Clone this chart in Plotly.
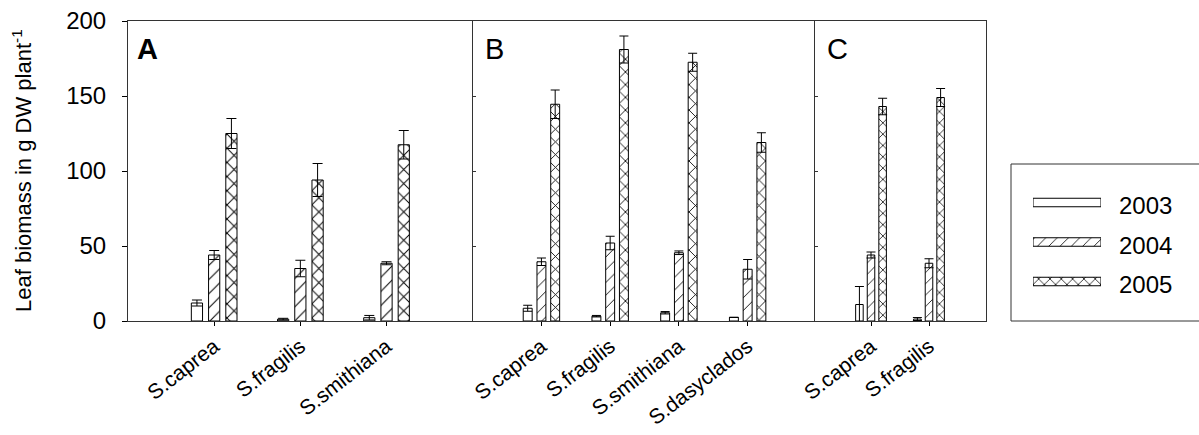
import plotly.graph_objects as go

# ---- data -------------------------------------------------------------
years = ["2003", "2004", "2005"]

cats_a = ["S.caprea", "S.fragilis", "S.smithiana"]
a_2003 = [12.0, 1.2, 2.2]
a_2003_err = [2.0, 0.6, 1.5]
a_2004 = [44.0, 35.0, 38.5]
a_2004_err = [3.0, 5.5, 1.0]
a_2005 = [125.0, 94.0, 117.5]
a_2005_err = [10.0, 11.0, 9.5]

cats_b = ["S.caprea", "S.fragilis", "S.smithiana", "S.dasyclados"]
b_2003 = [8.5, 3.2, 5.5, 2.4]
b_2003_err = [2.0, 0.5, 0.8, 0.0]
b_2004 = [39.5, 52.0, 45.5, 34.5]
b_2004_err = [2.5, 4.5, 1.2, 6.5]
b_2005 = [144.5, 181.0, 172.5, 119.0]
b_2005_err = [9.5, 9.0, 6.0, 6.5]

cats_c = ["S.caprea", "S.fragilis"]
c_2003 = [11.0, 1.3]
c_2003_err = [12.0, 1.0]
c_2004 = [44.0, 38.5]
c_2004_err = [2.0, 3.0]
c_2005 = [143.0, 149.0]
c_2005_err = [5.5, 6.0]

panel_letters = ["A", "B", "C"]
y_ticks = [0, 50, 100, 150, 200]
y_title = "Leaf biomass in g DW plant<sup>-1</sup>"

# ---- styling ------------------------------------------------------------
FONT = "Liberation Sans, Arial, sans-serif"
INK = "#000000"
EDGE = "#333333"
shapes_by_year = ["", "/", "x"]
solidity_by_year = [0.1, 0.1, 0.18]
offsets = [-0.265, -0.065, 0.135]
BAR_W = 0.13

panels = [
    dict(cats=cats_a, vals=[a_2003, a_2004, a_2005],
         errs=[a_2003_err, a_2004_err, a_2005_err],
         xa="x", ya="y", patsize=10, capw=5),
    dict(cats=cats_b, vals=[b_2003, b_2004, b_2005],
         errs=[b_2003_err, b_2004_err, b_2005_err],
         xa="x2", ya="y2", patsize=9, capw=4.5),
    dict(cats=cats_c, vals=[c_2003, c_2004, c_2005],
         errs=[c_2003_err, c_2004_err, c_2005_err],
         xa="x3", ya="y3", patsize=8, capw=4.5),
]

fig = go.Figure()

for p in panels:
    xs = list(range(len(p["cats"])))
    for k, yr in enumerate(years):
        fig.add_trace(go.Bar(
            x=xs, y=p["vals"][k], name=yr, showlegend=False,
            xaxis=p["xa"], yaxis=p["ya"],
            width=BAR_W, offset=offsets[k],
            marker=dict(
                color="white",
                line=dict(color=INK, width=1),
                pattern=dict(shape=shapes_by_year[k], fgcolor=INK,
                             fgopacity=1, bgcolor="white",
                             size=p["patsize"],
                             solidity=solidity_by_year[k]),
            ),
            error_y=dict(type="data", array=p["errs"][k], visible=True,
                         color=INK, thickness=1, width=p["capw"]),
        ))

# legend swatches drawn as short horizontal bars on their own axis
fig.add_trace(go.Bar(
    y=[0, 1, 2], x=[1, 1, 1], orientation="h", showlegend=False,
    xaxis="x4", yaxis="y4", width=0.215, base=0,
    marker=dict(
        color="white", line=dict(color=INK, width=1),
        pattern=dict(shape=shapes_by_year, fgcolor=INK, fgopacity=1,
                     bgcolor="white", size=8, solidity=solidity_by_year),
    ),
    hoverinfo="skip",
))

# ---- layout -------------------------------------------------------------
L, PW = 128, 1071  # left margin and plot-area width in px


def px(x):
    return (x - L) / PW


dom_a = [0, px(472.7)]
dom_b = [px(472.7), px(815)]
dom_c = [px(815), px(986)]

common_x = dict(showline=True, linecolor=EDGE, linewidth=1, mirror=True,
                ticks="outside", ticklen=4, tickcolor=INK, tickangle=-38,
                showgrid=False, zeroline=False, automargin=False,
                tickfont=dict(family=FONT, size=21, color=INK))
common_y = dict(range=[0, 200], showline=True, linecolor=EDGE, linewidth=1,
                showgrid=False, zeroline=False, tickvals=y_ticks,
                automargin=False)

fig.update_layout(
    width=1199, height=435,
    margin=dict(l=L, r=0, t=21, b=114),
    paper_bgcolor="white", plot_bgcolor="white",
    barmode="overlay",
    font=dict(family=FONT, color=INK),
    xaxis=dict(common_x, domain=dom_a, range=[-1, 3],
               tickvals=list(range(len(cats_a))), ticktext=cats_a),
    xaxis2=dict(common_x, domain=dom_b, range=[-1, 3.98],
                tickvals=list(range(len(cats_b))), ticktext=cats_b),
    xaxis3=dict(common_x, domain=dom_c, range=[-0.966, 1.983],
                tickvals=list(range(len(cats_c))), ticktext=cats_c),
    yaxis=dict(common_y, anchor="x", ticks="outside", ticklen=5,
               tickcolor=INK, ticklabelstandoff=11,
               tickfont=dict(family=FONT, size=24, color=INK)),
    yaxis2=dict(common_y, anchor="x2", ticks="inside", ticklen=3,
                tickcolor=EDGE, showticklabels=False),
    yaxis3=dict(common_y, anchor="x3", ticks="inside", ticklen=3,
                tickcolor=EDGE, showticklabels=False, mirror=True),
    xaxis4=dict(domain=[px(1033), px(1101)], range=[0, 1], visible=False,
                anchor="y4", fixedrange=True),
    yaxis4=dict(domain=[(321 - 301.25) / 300, (321 - 182.75) / 300],
                range=[2.5, -0.5], visible=False, anchor="x4",
                fixedrange=True),
)

# legend frame
fig.add_shape(type="rect", xref="paper", yref="paper",
              x0=px(1011), x1=px(1230), y0=0, y1=(321 - 164) / 300,
              line=dict(color=EDGE, width=1), fillcolor="rgba(0,0,0,0)",
              layer="below")

# legend labels
for k, yr in enumerate(years):
    fig.add_annotation(x=px(1117), xref="paper", y=k, yref="y4",
                       text=yr, showarrow=False, xanchor="left",
                       yanchor="middle", yshift=-3,
                       font=dict(family=FONT, size=24, color=INK))

# panel letters
for letter, xl, bold in zip(panel_letters, [135, 483, 825], [True, False, False]):
    fig.add_annotation(x=px(xl), xref="paper", y=(321 - 49) / 300,
                       yref="paper", text=f"<b>{letter}</b>" if bold else letter,
                       showarrow=False, xanchor="left", yanchor="middle",
                       font=dict(family=FONT, size=29, color=INK))

# y-axis title
fig.add_annotation(x=px(22), xref="paper", y=0.5, yref="paper",
                   text=y_title, textangle=-90, showarrow=False,
                   xanchor="center", yanchor="middle",
                   font=dict(family=FONT, size=22, color=INK))

fig.write_html("out.html")
